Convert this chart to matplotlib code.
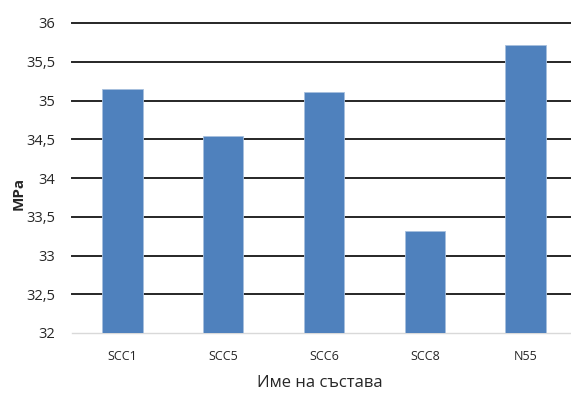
import matplotlib
matplotlib.use("Agg")
import matplotlib.pyplot as plt

categories = ["SCC1", "SCC5", "SCC6", "SCC8", "N55"]
values = [35.15, 34.54, 35.11, 33.32, 35.71]
yticks = [32, 32.5, 33, 33.5, 34, 34.5, 35, 35.5, 36]
ytick_labels = ["32", "32,5", "33", "33,5", "34", "34,5", "35", "35,5", "36"]

plt.rcParams['font.family'] = ['Open Sans', 'DejaVu Sans']

fig = plt.figure(figsize=(5.71, 3.97), dpi=100)
ax = fig.add_axes([72/571, 1-333/397, (576-72)/571, (333-23)/397])

x = range(len(categories))
ax.bar(x, values, width=0.4, bottom=0, color="#4F81BD", edgecolor="#A7C0DE", linewidth=0.6, zorder=3)
ax.set_ylim(32, 36)
ax.set_xlim(-0.5, 4.5)
ax.set_yticks(yticks)
ax.set_yticklabels(ytick_labels, fontsize=10.5, color="#262626")
ax.set_xticks(list(x))
ax.set_xticklabels(categories, fontsize=9, color="#262626")
ax.tick_params(axis='both', length=0)
ax.tick_params(axis='y', pad=12)
ax.tick_params(axis='x', pad=12)
for yv in yticks[1:]:
    ax.axhline(yv, color="#262626", linewidth=1.4, zorder=1, clip_on=False)
for s in ["top", "right", "left"]:
    ax.spines[s].set_visible(False)
ax.spines["bottom"].set_color("#D9D9D9")
ax.spines["bottom"].set_linewidth(1)
ax.set_ylabel("MPa", fontsize=11, fontweight="bold", color="#262626")
ax.yaxis.set_label_coords(-0.093, 0.45)
fig.text(320/571, 1-383/397, "Име на състава", fontsize=12, color="#262626", ha="center", va="center")

fig.savefig("out.png", dpi=100)
